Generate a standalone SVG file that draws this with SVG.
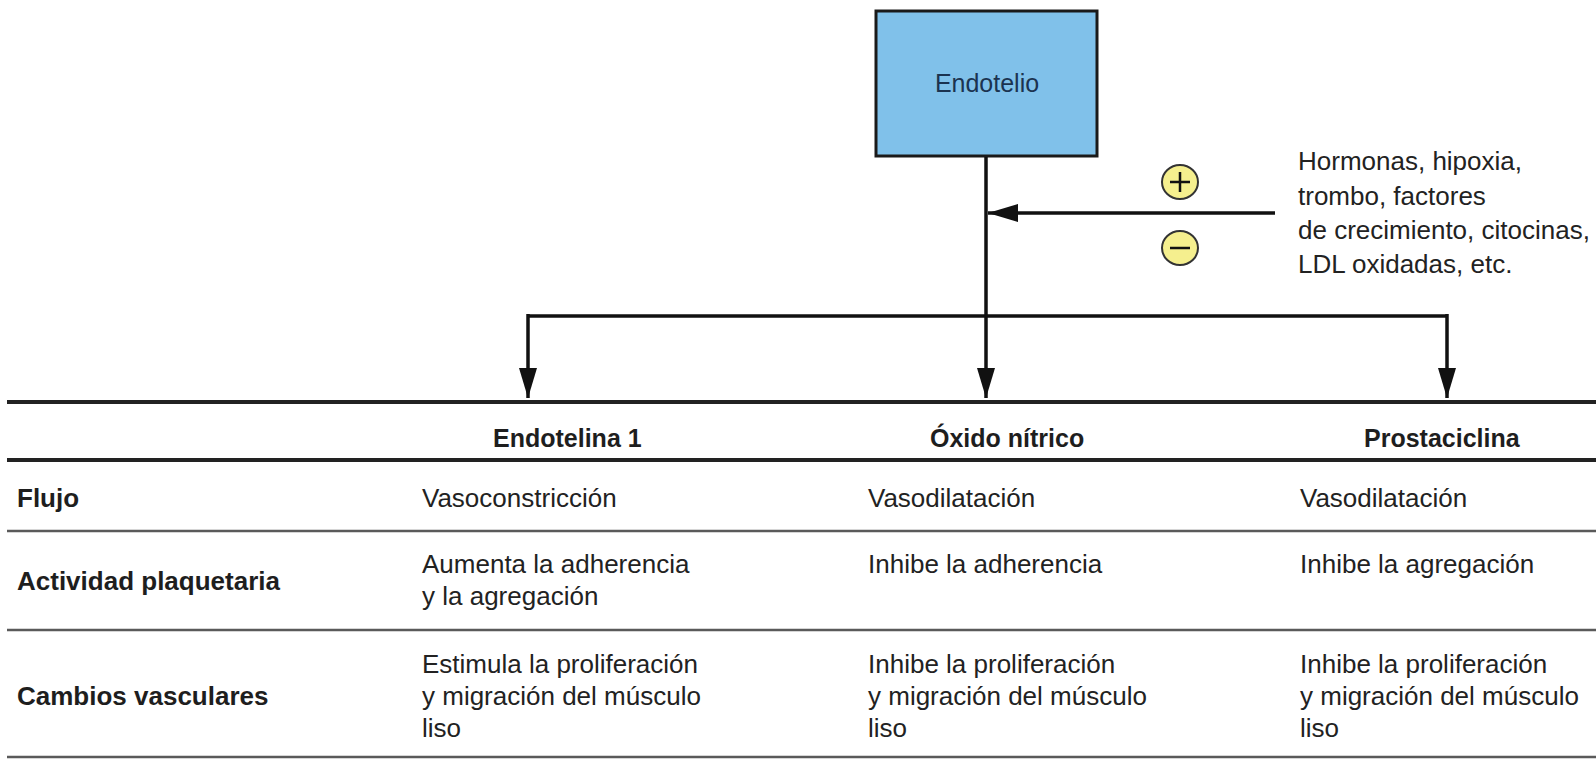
<svg xmlns="http://www.w3.org/2000/svg" width="1596" height="761" viewBox="0 0 1596 761">
<style>
.t{font-family:"Liberation Sans",Arial,sans-serif;font-size:26px;fill:#222}
.b{font-family:"Liberation Sans",Arial,sans-serif;font-size:26px;font-weight:bold;fill:#1e1e1e}
.h{font-family:"Liberation Sans",Arial,sans-serif;font-size:25px;font-weight:bold;fill:#1e1e1e}
.c{fill:none;stroke:#111;stroke-width:3.5}
.thick{stroke:#222;stroke-width:4}
.thin{stroke:#5a5a5a;stroke-width:2.5}
.sign{fill:#f5ef8e;stroke:#333;stroke-width:2}
</style>
<defs>
<marker id="ah" viewBox="0 0 30 18" refX="30" refY="9" markerWidth="30" markerHeight="18" markerUnits="userSpaceOnUse" orient="auto">
<path d="M0,0 L30,9 L0,18 Z" fill="#111"/>
</marker>
</defs>
<rect width="1596" height="761" fill="#fff"/>
<g id="endotelio">
<rect x="876" y="11" width="221" height="145" fill="#80c1ea" stroke="#1a1a1a" stroke-width="3"/>
<text x="987" y="92" text-anchor="middle" style="font-family:'Liberation Sans',Arial,sans-serif;font-size:25px;fill:#1b3350">Endotelio</text>
</g>
<g id="connectors">
<path class="c" d="M986,157 V398" marker-end="url(#ah)"/>
<path class="c" d="M1275,213 H988" marker-end="url(#ah)"/>
<path class="c" d="M528,316 H1447" stroke-width="4"/>
<path class="c" d="M528,314 V398" marker-end="url(#ah)"/>
<path class="c" d="M1447,314 V398" marker-end="url(#ah)"/>
</g>
<g id="plus">
<ellipse class="sign" cx="1180" cy="182" rx="18" ry="17"/>
<path d="M1170,182 H1190 M1180,172 V192" stroke="#111" stroke-width="2.5"/>
</g>
<g id="minus">
<ellipse class="sign" cx="1180" cy="248" rx="18" ry="17"/>
<path d="M1170,248 H1190" stroke="#111" stroke-width="2.5"/>
</g>
<g id="factores">
<text class="t" x="1298" y="170">Hormonas, hipoxia,</text>
<text class="t" x="1298" y="205">trombo, factores</text>
<text class="t" x="1298" y="239">de crecimiento, citocinas,</text>
<text class="t" x="1298" y="273">LDL oxidadas, etc.</text>
</g>
<g id="table">
<line class="thick" x1="7" y1="402" x2="1596" y2="402"/>
<line class="thick" x1="7" y1="460" x2="1596" y2="460"/>
<line class="thin" x1="7" y1="531" x2="1596" y2="531"/>
<line class="thin" x1="7" y1="630" x2="1596" y2="630"/>
<line class="thin" x1="7" y1="757" x2="1596" y2="757"/>
<text class="h" x="493" y="447">Endotelina 1</text>
<text class="h" x="930" y="447">Óxido nítrico</text>
<text class="h" x="1364" y="447">Prostaciclina</text>
<text class="b" x="17" y="507">Flujo</text>
<text class="b" x="17" y="590">Actividad plaquetaria</text>
<text class="b" x="17" y="705">Cambios vasculares</text>
<text class="t" x="422" y="507">Vasoconstricción</text>
<text class="t" x="868" y="507">Vasodilatación</text>
<text class="t" x="1300" y="507">Vasodilatación</text>
<text class="t" x="422" y="573">Aumenta la adherencia</text>
<text class="t" x="422" y="605">y la agregación</text>
<text class="t" x="868" y="573">Inhibe la adherencia</text>
<text class="t" x="1300" y="573">Inhibe la agregación</text>
<text class="t" x="422" y="673">Estimula la proliferación</text>
<text class="t" x="422" y="705">y migración del músculo</text>
<text class="t" x="422" y="737">liso</text>
<text class="t" x="868" y="673">Inhibe la proliferación</text>
<text class="t" x="868" y="705">y migración del músculo</text>
<text class="t" x="868" y="737">liso</text>
<text class="t" x="1300" y="673">Inhibe la proliferación</text>
<text class="t" x="1300" y="705">y migración del músculo</text>
<text class="t" x="1300" y="737">liso</text>
</g>
</svg>
